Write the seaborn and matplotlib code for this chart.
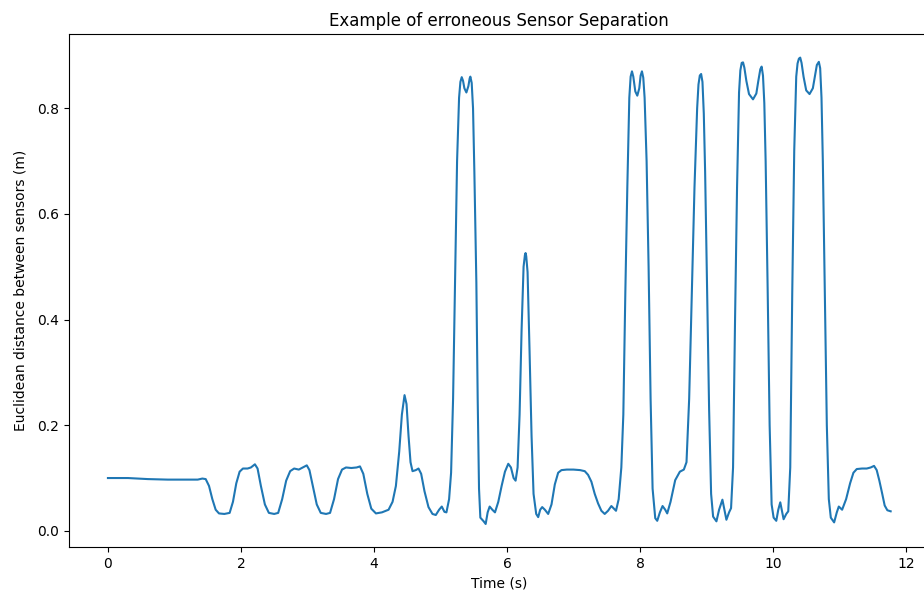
import matplotlib
matplotlib.use("Agg")
import matplotlib.pyplot as plt
import seaborn as sns
import pandas as pd

# Sampled sensor separation over time (seconds, metres), one row per stretch of the trace
time_s = [
    0.00, 0.30, 0.60, 0.90, 1.20, 1.35, 1.42, 1.47, 1.52, 1.57, 1.62, 1.67, 1.75, 1.83,
    1.88, 1.93, 1.98, 2.03, 2.10, 2.15, 2.21, 2.25, 2.30, 2.36, 2.42, 2.50, 2.56,
    2.62, 2.68, 2.74, 2.80, 2.87, 2.93, 2.99, 3.03, 3.08, 3.14, 3.20, 3.28, 3.34,
    3.40, 3.46, 3.52, 3.58, 3.66, 3.74, 3.79, 3.84, 3.90, 3.96, 4.03, 4.12, 4.22,
    4.28, 4.33, 4.38, 4.42, 4.46, 4.49, 4.52, 4.55, 4.58, 4.63, 4.67, 4.71, 4.76,
    4.82, 4.88, 4.93, 4.98, 5.02, 5.06, 5.09, 5.13, 5.16, 5.19, 5.22, 5.25, 5.28,
    5.30, 5.32, 5.34, 5.36, 5.39, 5.42, 5.44, 5.45, 5.47, 5.49, 5.51, 5.54, 5.56,
    5.58, 5.60, 5.65, 5.68, 5.71, 5.74, 5.78, 5.82, 5.87, 5.92, 5.97, 6.02, 6.06,
    6.10, 6.13, 6.16, 6.19, 6.22, 6.25, 6.27, 6.28, 6.29, 6.31, 6.34, 6.37, 6.40,
    6.44, 6.47, 6.50, 6.53, 6.57, 6.62, 6.67, 6.72, 6.77, 6.82, 6.90, 7.00, 7.10,
    7.17, 7.22, 7.27, 7.32, 7.37, 7.42, 7.47, 7.52, 7.57, 7.61, 7.64, 7.68, 7.72,
    7.75, 7.78, 7.81, 7.84, 7.86, 7.88, 7.90, 7.93, 7.96, 7.99, 8.01, 8.03, 8.05,
    8.07, 8.10, 8.13, 8.16, 8.19, 8.23, 8.26, 8.30, 8.34, 8.38, 8.41, 8.46, 8.53,
    8.60, 8.66, 8.70, 8.74, 8.78, 8.82, 8.86, 8.88, 8.90, 8.92, 8.94, 8.96, 8.98,
    9.01, 9.04, 9.07, 9.10, 9.15, 9.19, 9.24, 9.27, 9.30, 9.34, 9.37, 9.40, 9.43,
    9.46, 9.49, 9.51, 9.53, 9.55, 9.57, 9.60, 9.64, 9.70, 9.75, 9.78, 9.81, 9.83,
    9.85, 9.87, 9.89, 9.92, 9.95, 9.98, 10.01, 10.05, 10.08, 10.11, 10.14, 10.16,
    10.20, 10.23, 10.26, 10.29, 10.32, 10.35, 10.37, 10.39, 10.41, 10.43, 10.46,
    10.50, 10.55, 10.60, 10.63, 10.66, 10.69, 10.71, 10.73, 10.75, 10.78, 10.81,
    10.84, 10.87, 10.92, 10.96, 10.99, 11.04, 11.10, 11.16, 11.21, 11.26, 11.34,
    11.41, 11.47, 11.52, 11.56, 11.60, 11.64, 11.68, 11.72, 11.77,
]
distance_m = [
    0.100, 0.100, 0.098, 0.097, 0.097, 0.097, 0.099, 0.098, 0.085, 0.060, 0.040, 0.033, 0.032, 0.034,
    0.055, 0.090, 0.112, 0.118, 0.118, 0.120, 0.126, 0.118, 0.085, 0.050, 0.034, 0.032, 0.034,
    0.060, 0.095, 0.113, 0.118, 0.116, 0.120, 0.124, 0.115, 0.085, 0.050, 0.034, 0.032, 0.034,
    0.060, 0.098, 0.116, 0.120, 0.119, 0.120, 0.122, 0.108, 0.070, 0.042, 0.033, 0.035, 0.040,
    0.055, 0.085, 0.150, 0.220, 0.257, 0.240, 0.180, 0.130, 0.113, 0.115, 0.118, 0.108, 0.075,
    0.045, 0.032, 0.030, 0.040, 0.046, 0.036, 0.035, 0.060, 0.110, 0.250, 0.480, 0.700, 0.820,
    0.850, 0.859, 0.852, 0.838, 0.830, 0.842, 0.857, 0.860, 0.848, 0.800, 0.680, 0.470, 0.250,
    0.080, 0.025, 0.018, 0.013, 0.035, 0.046, 0.040, 0.035, 0.055, 0.085, 0.112, 0.127, 0.120,
    0.100, 0.095, 0.120, 0.220, 0.380, 0.500, 0.522, 0.526, 0.520, 0.490, 0.340, 0.180, 0.070,
    0.032, 0.026, 0.040, 0.045, 0.040, 0.032, 0.050, 0.088, 0.110, 0.115, 0.116, 0.116, 0.115,
    0.113, 0.106, 0.093, 0.070, 0.052, 0.038, 0.032, 0.038, 0.047, 0.042, 0.038, 0.060, 0.120,
    0.220, 0.450, 0.650, 0.820, 0.860, 0.870, 0.860, 0.832, 0.824, 0.838, 0.862, 0.870, 0.858,
    0.820, 0.700, 0.500, 0.250, 0.080, 0.024, 0.019, 0.035, 0.047, 0.040, 0.033, 0.055, 0.096,
    0.112, 0.116, 0.130, 0.250, 0.450, 0.650, 0.800, 0.845, 0.862, 0.865, 0.850, 0.790, 0.680,
    0.450, 0.230, 0.070, 0.027, 0.018, 0.040, 0.059, 0.040, 0.021, 0.035, 0.043, 0.120, 0.400,
    0.650, 0.830, 0.872, 0.886, 0.887, 0.877, 0.852, 0.827, 0.817, 0.828, 0.852, 0.874, 0.879,
    0.862, 0.810, 0.700, 0.460, 0.200, 0.050, 0.025, 0.019, 0.040, 0.054, 0.035, 0.022,
    0.032, 0.037, 0.120, 0.450, 0.720, 0.860, 0.885, 0.894, 0.896, 0.886, 0.860,
    0.834, 0.827, 0.838, 0.860, 0.882, 0.888, 0.876, 0.820, 0.700, 0.450, 0.200,
    0.060, 0.025, 0.016, 0.035, 0.046, 0.040, 0.060, 0.090, 0.110, 0.117, 0.118,
    0.118, 0.120, 0.123, 0.115, 0.095, 0.072, 0.048, 0.039, 0.037,
]

df = pd.DataFrame({"Time (s)": time_s, "Distance (m)": distance_m})

fig = plt.figure(figsize=(9.24, 5.99), dpi=100)
ax = fig.add_axes([68.8 / 924, (599 - 547.3) / 599, 861 / 924, (547.3 - 34.3) / 599])

sns.lineplot(data=df, x="Time (s)", y="Distance (m)", ax=ax, color="#1f77b4",
             linewidth=1.5, sort=False)

ax.set_title("Example of erroneous Sensor Separation")
ax.set_xlabel("Time (s)")
ax.set_ylabel("Euclidean distance between sensors (m)", labelpad=7)

fig.savefig("out.png", dpi=100)
